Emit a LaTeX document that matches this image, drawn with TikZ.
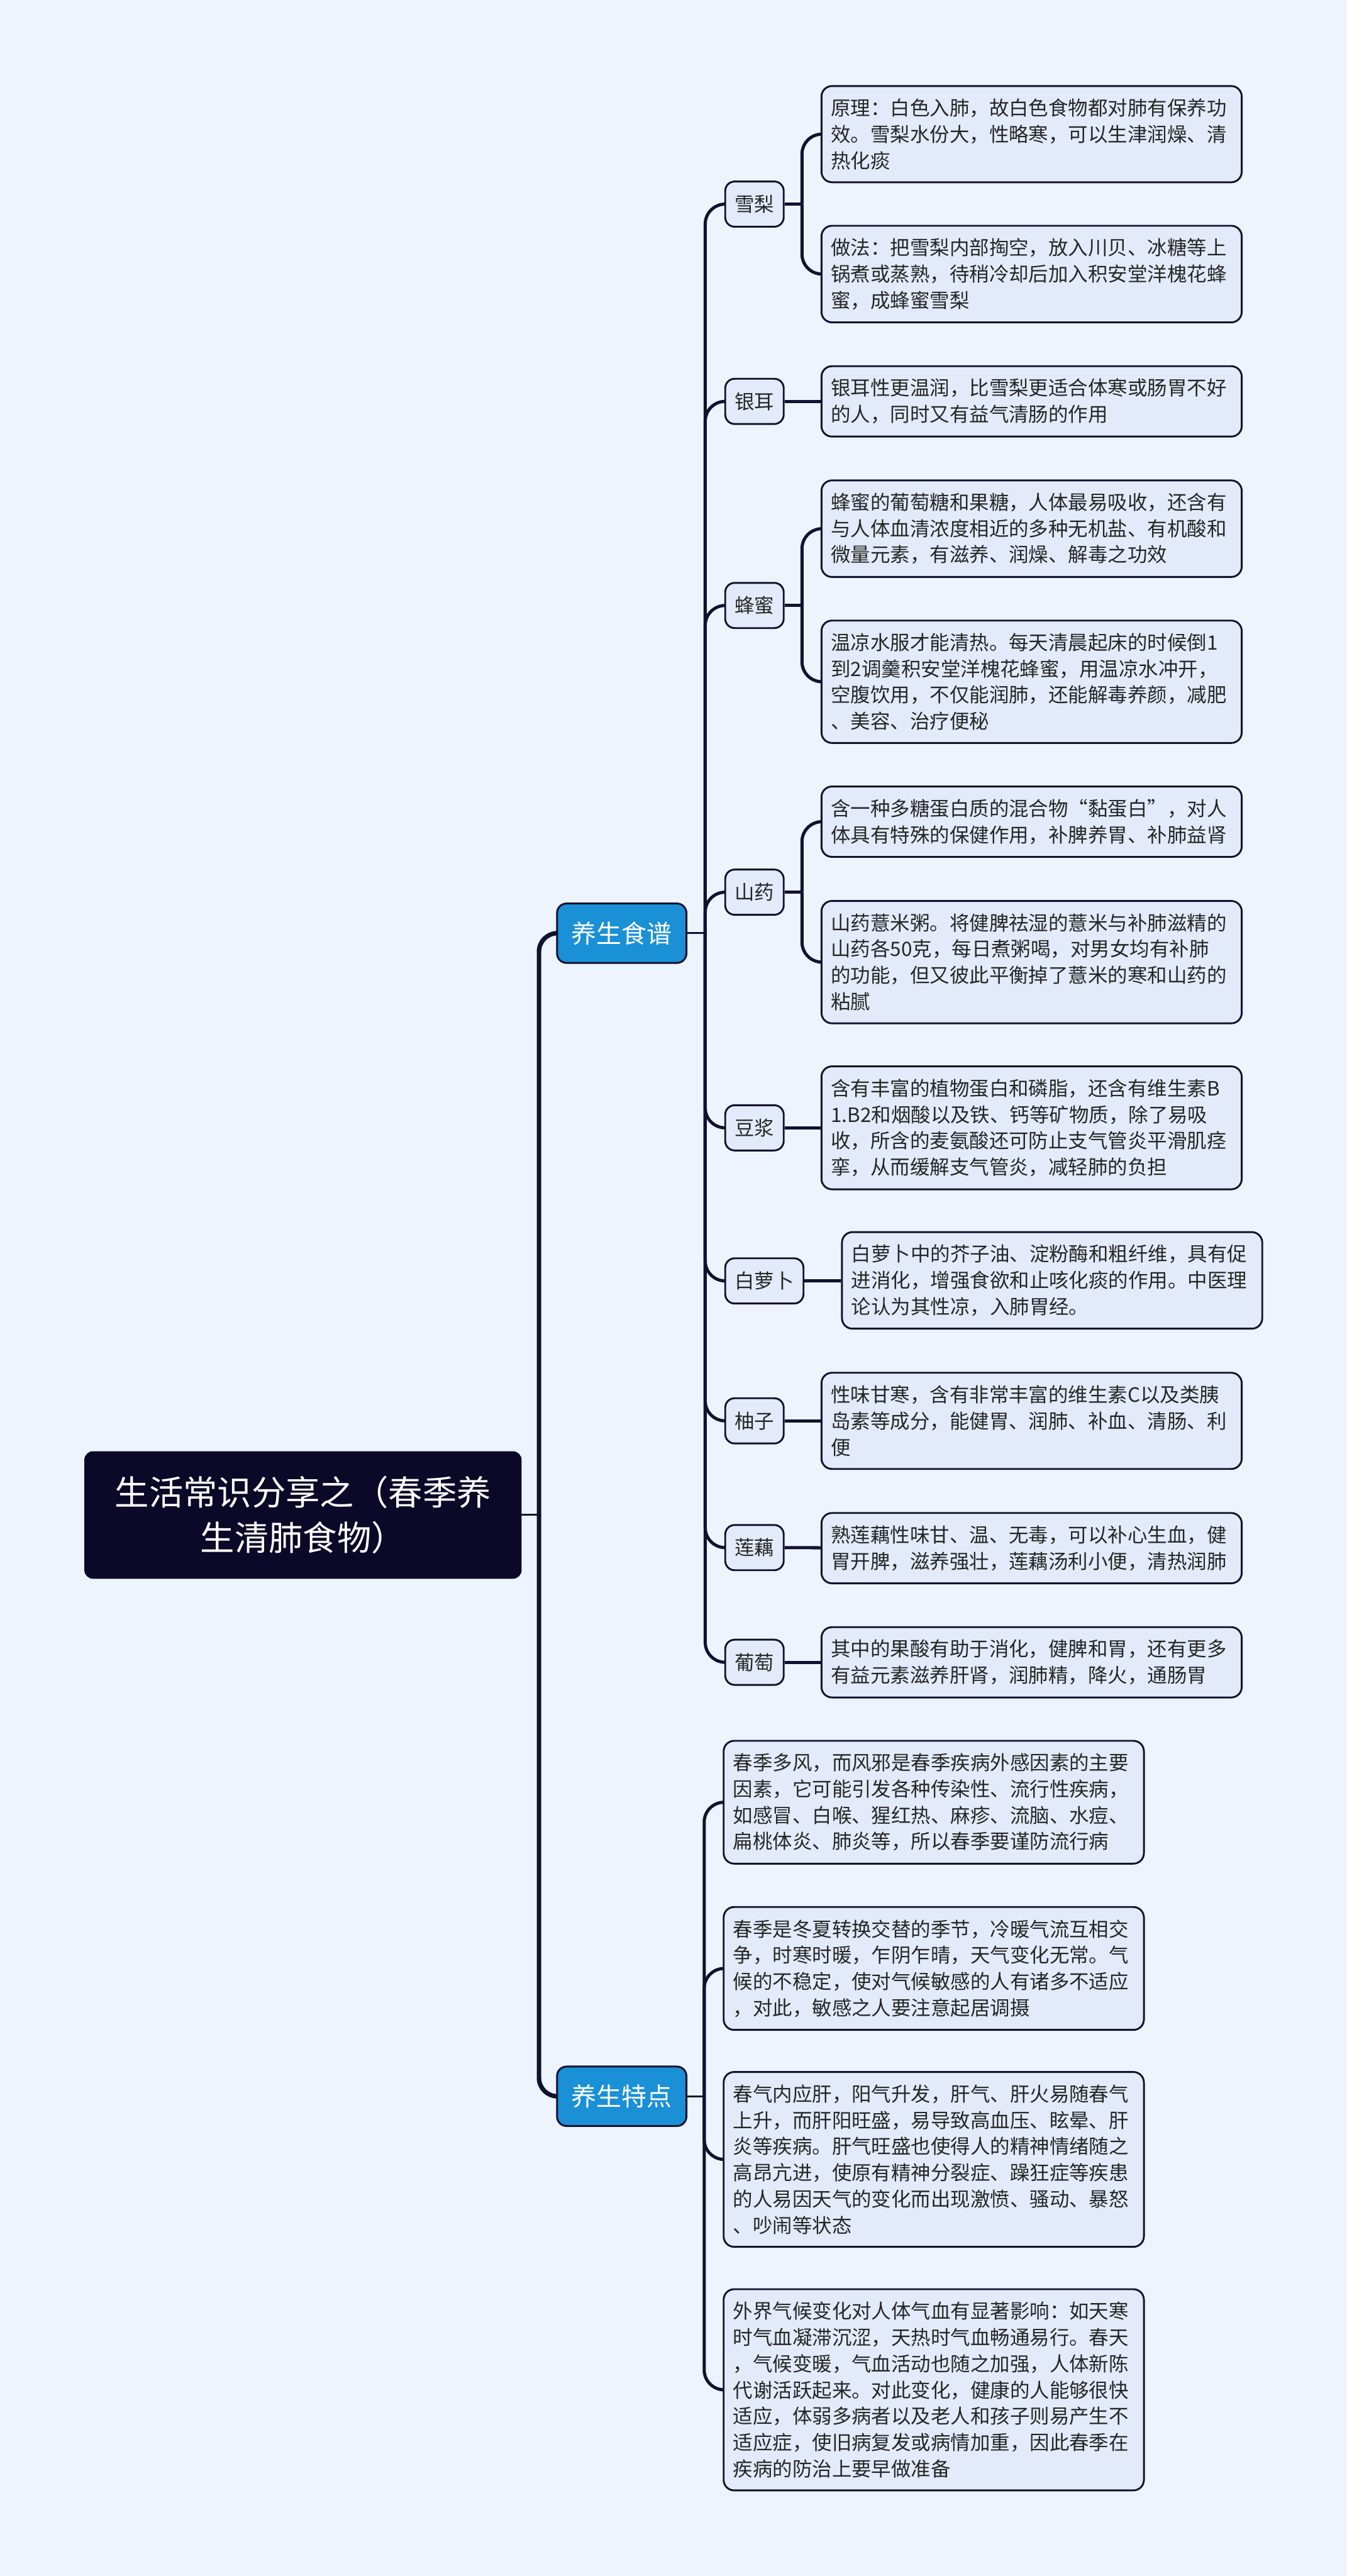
\documentclass[tikz,border=0pt]{standalone}
\usepackage{fontspec}
\setmainfont{Noto Sans CJK SC}
\usepackage{xcolor}
\usepackage{tikz}
\usetikzlibrary{positioning}
\definecolor{bgPage}{HTML}{EEF4FE}
\definecolor{inkNavy}{HTML}{0B0828}
\definecolor{lineNavy}{HTML}{12112F}
\definecolor{topicBlue}{HTML}{1A90D6}
\definecolor{leafFill}{HTML}{E3EBFA}
\definecolor{textGray}{HTML}{262626}

\begin{document}
\begin{tikzpicture}[
  rootbox/.style={fill=inkNavy, draw=inkNavy, rounded corners=0.16cm, text=white, align=center, minimum width=8.3cm, minimum height=2.41cm, font=\fontsize{18.5pt}{24.7pt}\selectfont},
  topic/.style={fill=topicBlue, draw=lineNavy, line width=0.035cm, rounded corners=0.18cm, text=white, minimum width=2.46cm, minimum height=1.13cm, font=\fontsize{13.6pt}{16pt}\selectfont},
  item/.style={anchor=west, fill=leafFill, draw=lineNavy, line width=0.035cm, rounded corners=0.18cm, minimum height=0.86cm, inner xsep=0.18cm, text=textGray, font=\fontsize{10.7pt}{14.2pt}\selectfont},
  leaf/.style={item, rounded corners=0.2cm, text width=7.63cm, inner ysep=0.24cm, align=left, minimum height=0pt},
  trunk/.style={draw=lineNavy, line width=0.085cm, rounded corners=0.35cm},
  branch/.style={draw=lineNavy, line width=0.06cm, rounded corners=0.38cm},
  stem/.style={draw=lineNavy, line width=0.035cm}
]

% ---------- PAGE ----------
\fill[bgPage] (0,0) rectangle (25.6,-48.97);
\useasboundingbox (0,0) rectangle (25.6,-48.97);

% ---------- ROOT AND TOPICS ----------
\node[rootbox] (root) at (5.76,-28.80) {生活常识分享之（春季养\\生清肺食物）};
\node[topic] (yssp) at (11.82,-17.74) {养生食谱};
\node[topic] (ystd) at (11.82,-39.85) {养生特点};

\coordinate[right=0.33cm of root] (fk0);
\draw[stem] (root) -- (fk0);
\draw[trunk] (fk0) |- (yssp.west);
\draw[trunk] (fk0) |- (ystd.west);

% ---------- TOPIC 1: FOODS ----------
\node[item] (xl) at (13.77,-3.88) {雪梨};
\node[item] (ye) at (13.77,-7.63) {银耳};
\node[item] (fm) at (13.77,-11.51) {蜂蜜};
\node[item] (sy) at (13.77,-16.96) {山药};
\node[item] (dj) at (13.77,-21.44) {豆浆};
\node[item] (lb) at (13.77,-24.35) {白萝卜};
\node[item] (yz) at (13.77,-27.01) {柚子};
\node[item] (lo) at (13.77,-29.42) {莲藕};
\node[item] (pt) at (13.77,-31.60) {葡萄};

\coordinate[right=0.34cm of yssp] (fk1);
\draw[stem] (yssp) -- (fk1);
\foreach \c in {xl,ye,fm,sy,dj,lb,yz,lo,pt}
  \draw[branch] (fk1) |- (\c.west);

\node[leaf] (xl1) at (15.60,-2.55) {原理：白色入肺，故白色食物都对肺有保养功\\效。雪梨水份大，性略寒，可以生津润燥、清\\热化痰};
\node[leaf] (xl2) at (15.60,-5.21) {做法：把雪梨内部掏空，放入川贝、冰糖等上\\锅煮或蒸熟，待稍冷却后加入积安堂洋槐花蜂\\蜜，成蜂蜜雪梨};
\node[leaf] (ye1) at (15.60,-7.63) {银耳性更温润，比雪梨更适合体寒或肠胃不好\\的人，同时又有益气清肠的作用};
\node[leaf] (fm1) at (15.60,-10.05) {蜂蜜的葡萄糖和果糖，人体最易吸收，还含有\\与人体血清浓度相近的多种无机盐、有机酸和\\微量元素，有滋养、润燥、解毒之功效};
\node[leaf] (fm2) at (15.60,-12.96) {温凉水服才能清热。每天清晨起床的时候倒1\\到2调羹积安堂洋槐花蜂蜜，用温凉水冲开，\\空腹饮用，不仅能润肺，还能解毒养颜，减肥\\、美容、治疗便秘};
\node[leaf] (sy1) at (15.60,-15.62) {含一种多糖蛋白质的混合物“黏蛋白”，对人\\体具有特殊的保健作用，补脾养胃、补肺益肾};
\node[leaf] (sy2) at (15.60,-18.29) {山药薏米粥。将健脾祛湿的薏米与补肺滋精的\\山药各50克，每日煮粥喝，对男女均有补肺\\的功能，但又彼此平衡掉了薏米的寒和山药的\\粘腻};
\node[leaf] (dj1) at (15.60,-21.44) {含有丰富的植物蛋白和磷脂，还含有维生素B\\1.B2和烟酸以及铁、钙等矿物质，除了易吸\\收，所含的麦氨酸还可防止支气管炎平滑肌痉\\挛，从而缓解支气管炎，减轻肺的负担};
\node[leaf] (lb1) at (15.99,-24.34) {白萝卜中的芥子油、淀粉酶和粗纤维，具有促\\进消化，增强食欲和止咳化痰的作用。中医理\\论认为其性凉，入肺胃经。};
\node[leaf] (yz1) at (15.60,-27.01) {性味甘寒，含有非常丰富的维生素C以及类胰\\岛素等成分，能健胃、润肺、补血、清肠、利\\便};
\node[leaf] (lo1) at (15.60,-29.43) {熟莲藕性味甘、温、无毒，可以补心生血，健\\胃开脾，滋养强壮，莲藕汤利小便，清热润肺};
\node[leaf] (pt1) at (15.60,-31.60) {其中的果酸有助于消化，健脾和胃，还有更多\\有益元素滋养肝肾，润肺精，降火，通肠胃};

% two-leaf items fork, the rest run straight
\foreach \p/\a/\b in {xl/xl1/xl2, fm/fm1/fm2, sy/sy1/sy2}{
  \coordinate[right=0.33cm of \p] (fk\p);
  \draw[branch] (\p) -- (fk\p);
  \draw[branch] (fk\p) |- (\a.west);
  \draw[branch] (fk\p) |- (\b.west);
}
\foreach \p/\a in {ye/ye1, dj/dj1, lb/lb1, yz/yz1, lo/lo1, pt/pt1}
  \draw[branch] (\p) -- (\a);

% ---------- TOPIC 2: SPRING FEATURES ----------
\node[leaf] (td1) at (13.74,-34.26) {春季多风，而风邪是春季疾病外感因素的主要\\因素，它可能引发各种传染性、流行性疾病，\\如感冒、白喉、猩红热、麻疹、流脑、水痘、\\扁桃体炎、肺炎等，所以春季要谨防流行病};
\node[leaf] (td2) at (13.74,-37.42) {春季是冬夏转换交替的季节，冷暖气流互相交\\争，时寒时暖，乍阴乍晴，天气变化无常。气\\候的不稳定，使对气候敏感的人有诸多不适应\\，对此，敏感之人要注意起居调摄};
\node[leaf] (td3) at (13.74,-41.05) {春气内应肝，阳气升发，肝气、肝火易随春气\\上升，而肝阳旺盛，易导致高血压、眩晕、肝\\炎等疾病。肝气旺盛也使得人的精神情绪随之\\高昂亢进，使原有精神分裂症、躁狂症等疾患\\的人易因天气的变化而出现激愤、骚动、暴怒\\、吵闹等状态};
\node[leaf] (td4) at (13.74,-45.43) {外界气候变化对人体气血有显著影响：如天寒\\时气血凝滞沉涩，天热时气血畅通易行。春天\\，气候变暖，气血活动也随之加强，人体新陈\\代谢活跃起来。对此变化，健康的人能够很快\\适应，体弱多病者以及老人和孩子则易产生不\\适应症，使旧病复发或病情加重，因此春季在\\疾病的防治上要早做准备};

\coordinate[right=0.32cm of ystd] (fk2);
\draw[stem] (ystd) -- (fk2);
\foreach \c in {td1,td2,td3,td4}
  \draw[branch] (fk2) |- (\c.west);

\end{tikzpicture}
\end{document}
